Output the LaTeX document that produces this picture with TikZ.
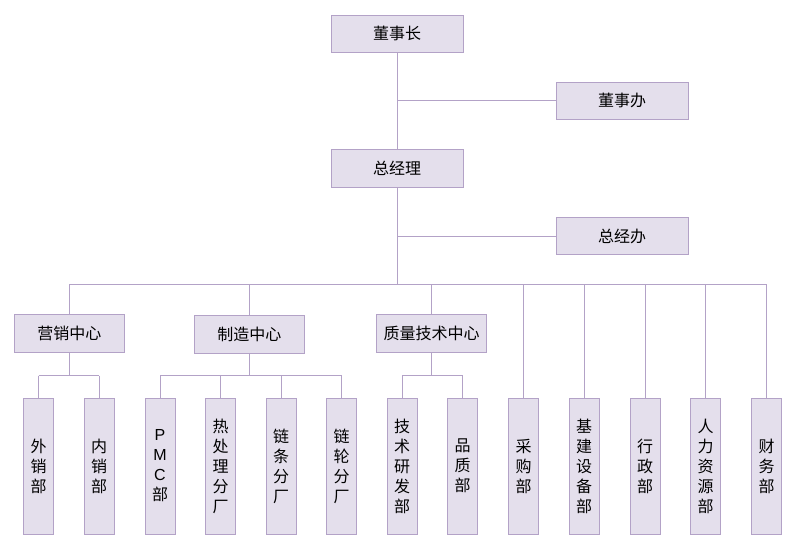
\documentclass[tikz,border=0pt]{standalone}
\usepackage{fontspec}
\newfontfamily\cjk{Noto Sans CJK SC}
\newfontfamily\latn{Liberation Sans}
\definecolor{boxfill}{HTML}{E4DFEC}
\definecolor{boxline}{HTML}{B3A2C7}
\begin{document}
\begin{tikzpicture}[x=1pt,y=-1pt,
  box/.style={draw=boxline,fill=boxfill,line width=1pt,inner sep=0pt,
    font=\cjk\fontsize{16}{20}\selectfont,text=black},
  wbox/.style={box,minimum width=132pt,minimum height=37pt},
  mbox/.style={box,minimum width=110pt,minimum height=38pt},
  vbox/.style={box,minimum width=30pt,minimum height=136pt,align=center},
  conn/.style={draw=boxline,line width=1pt}]
\useasboundingbox (0,0) rectangle (802,550);
% top
\node[wbox] (dsz) at (397,33.5) {董事长};
\node[wbox] (dsb) at (622,100.5) {董事办};
\node[wbox,minimum height=38pt] (zjl) at (397,168) {总经理};
\node[wbox] (zjb) at (622,236) {总经办};
% middle
\node[mbox] (yx) at (69.3,333) {营销中心};
\node[mbox] (zz) at (249.3,334) {制造中心};
\node[mbox] (zl) at (431.5,333.3) {质量技术中心};
% bottom
\node[vbox] (wx) at (38.5,466) {外\\销\\部};
\node[vbox] (nx) at (99,466) {内\\销\\部};
\node[vbox] (pmc) at (160,466) {{\latn P}\\{\latn M}\\{\latn C}\\部};
\node[vbox] (rcl) at (220.5,466) {热\\处\\理\\分\\厂};
\node[vbox] (ltf) at (281,466) {链\\条\\分\\厂};
\node[vbox] (llf) at (341.5,466) {链\\轮\\分\\厂};
\node[vbox] (jsyf) at (402,466) {技\\术\\研\\发\\部};
\node[vbox] (pz) at (462.5,466) {品\\质\\部};
\node[vbox] (cg) at (523.5,466) {采\\购\\部};
\node[vbox] (jj) at (584,466) {基\\建\\设\\备\\部};
\node[vbox] (xz) at (645,466) {行\\政\\部};
\node[vbox] (rl) at (705.5,466) {人\\力\\资\\源\\部};
\node[vbox] (cw) at (766.5,466) {财\\务\\部};
% coordinates
\coordinate (bus) at (397,284);
\coordinate (sub) at (0,375.5);
% connectors
\draw[conn] (dsz.south) -- (zjl.north);
\draw[conn] (dsz.south |- dsb.west) -- (dsb.west);
\draw[conn] (zjl.south) -- (bus);
\draw[conn] (zjl.south |- zjb.west) -- (zjb.west);
\draw[conn] (yx.north |- bus) -- (cw.north |- bus);
\foreach \n in {yx,zz,zl,cg,jj,xz,rl,cw}
  \draw[conn] (\n.north |- bus) -- (\n.north);
% sub buses
\draw[conn] (yx.south) -- (yx.south |- sub);
\draw[conn] (wx.north |- sub) -- (nx.north |- sub);
\foreach \n in {wx,nx} \draw[conn] (\n.north |- sub) -- (\n.north);
\draw[conn] (zz.south) -- (zz.south |- sub);
\draw[conn] (pmc.north |- sub) -- (llf.north |- sub);
\foreach \n in {pmc,rcl,ltf,llf} \draw[conn] (\n.north |- sub) -- (\n.north);
\draw[conn] (zl.south) -- (zl.south |- sub);
\draw[conn] (jsyf.north |- sub) -- (pz.north |- sub);
\foreach \n in {jsyf,pz} \draw[conn] (\n.north |- sub) -- (\n.north);
\end{tikzpicture}
\end{document}
